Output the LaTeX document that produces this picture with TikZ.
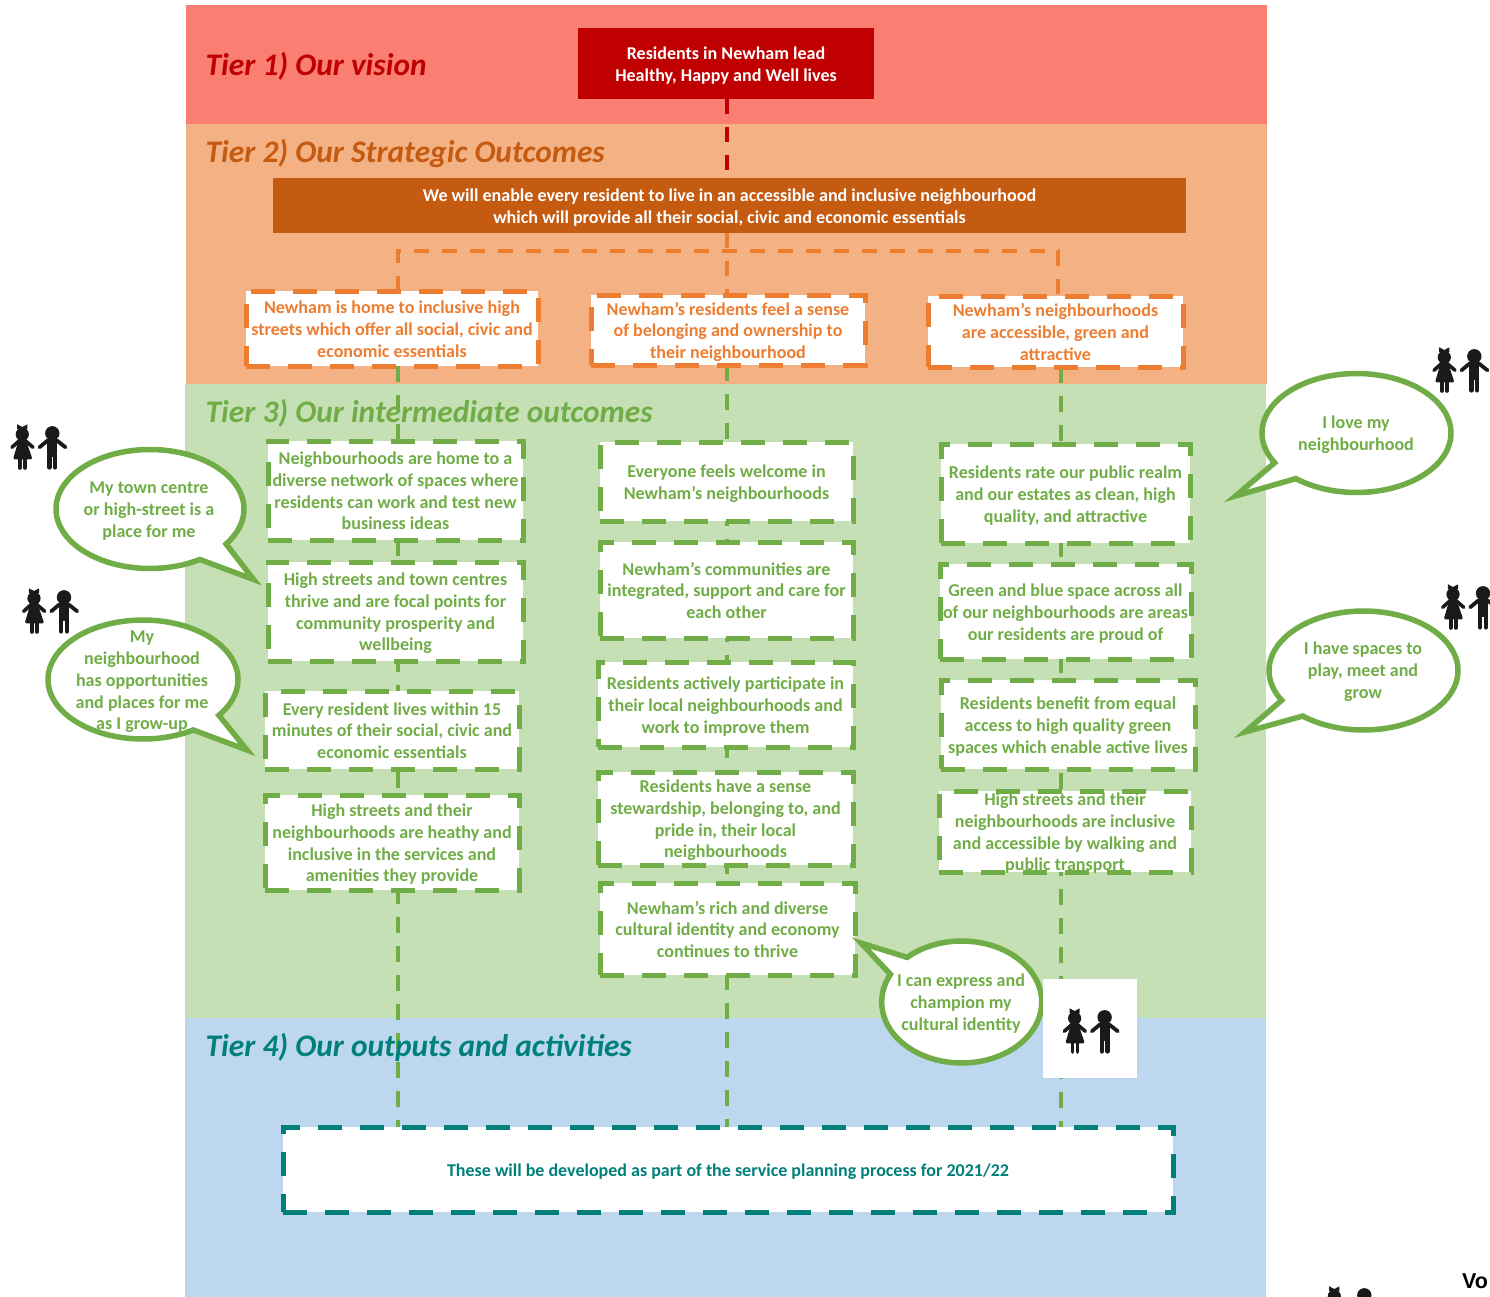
\documentclass[tikz,border=0pt]{standalone}
\usepackage{fontspec}
\setmainfont{Carlito}
\newfontfamily\vofont{Liberation Sans}
\definecolor{bandred}{HTML}{FB7E72}
\definecolor{bandorange}{HTML}{F4B183}
\definecolor{bandgreen}{HTML}{C5E0B4}
\definecolor{bandblue}{HTML}{BDD7EE}
\definecolor{cred}{HTML}{C00000}
\definecolor{cbrown}{HTML}{C55A11}
\definecolor{corange}{HTML}{ED7D31}
\definecolor{cgreen}{HTML}{70AD47}
\definecolor{cteal}{HTML}{00807A}
\definecolor{ckid}{HTML}{1A1A1A}
\pgfdeclarelayer{bands}
\pgfdeclarelayer{links}
\pgfsetlayers{bands,links,main}
\newcommand\lines[1]{\vbox to 0pt{\vss\kern5pt\hbox{\begin{tabular}{@{}c@{}}#1\end{tabular}}\vss}}
\newcommand\bubblepath[8]{\draw[bub] plot[domain=#5:#6,samples=120] ({#1+#3*cos(\x)},{#2+#4*sin(\x)}) -- (#7,#8) -- cycle;}
\tikzset{
  x=1pt,y=-1pt,
  dbox/.style={draw,fill=white,line width=5pt,inner sep=0pt,outer sep=0pt,dash pattern=on 24pt off 18pt,align=center},
  obox/.style={draw=corange,text=corange},
  gbox/.style={draw=cgreen,text=cgreen},
  tbx/.style={draw=cteal,text=cteal},
  bub/.style={draw=cgreen,fill=white,line width=5.5pt,line join=miter},
  bubtext/.style={text=cgreen,inner sep=0pt},
  title/.style={anchor=base west,inner sep=0pt,font=\fontsize{31.4}{36}\selectfont\bfseries\itshape},
  solidbox/.style={text=white,inner sep=0pt,outer sep=0pt,align=center},
  olink/.style={draw=corange,line width=3.5pt,dash pattern=on 15pt off 13pt},
  glink/.style={draw=cgreen,line width=4pt,dash pattern=on 16pt off 13pt},
  rlink/.style={draw=cred,line width=3.5pt,dash pattern=on 15pt off 13pt},
  kids/.pic={
    \fill[ckid] (12.3,10.3) circle[radius=6.6];
    \fill[ckid] (7.2,0.3) -- (12.3,3) -- (17.4,0.3) -- (17.4,5) -- (7.2,5) -- cycle;
    \fill[ckid,rounded corners=1.5pt] (9,15) -- (15.6,15) -- (22.5,35.3) -- (3,35.3) -- cycle;
    \draw[ckid,line width=3.6pt,line cap=round] (2,23.3) -- (9,17) -- (15.6,17) -- (23,23.3);
    \draw[ckid,line width=3.6pt,line cap=round] (10,33) -- (10,44) (15,33) -- (15,44);
    \fill[ckid] (42.3,9.3) circle[radius=7.2];
    \draw[ckid,line width=3.8pt,line cap=round] (29.5,23.3) -- (37,17) -- (47.5,17) -- (55.5,23.3);
    \fill[ckid] (37.3,15.5) rectangle (47.3,33);
    \draw[ckid,line width=4.2pt,line cap=round] (39.4,30) -- (39.4,43.5) (45.2,30) -- (45.2,43.5);
  }
}
\begin{document}
\begin{tikzpicture}[font=\fontsize{18.05}{21.7}\selectfont\bfseries]
\useasboundingbox (0,0) rectangle (1490,1297);
\clip (0,0) rectangle (1490,1297);

\begin{pgfonlayer}{bands}
\fill[bandred] (186,5) rectangle (1267,124);
\fill[bandorange] (186,124) rectangle (1267,384);
\fill[bandgreen] (185,384) rectangle (1266,1018);
\fill[bandblue] (185,1018) rectangle (1266,1297);
\end{pgfonlayer}

% titles
\node[title,text=cred] (t1) at (205.5,76) {Tier 1) Our vision};
\node[title,text=cbrown] (t2) at (205.5,162.5) {Tier 2) Our Strategic Outcomes};
\node[title,text=cgreen] (t3) at (205.5,422) {Tier 3) Our intermediate outcomes};
\node[title,text=cteal] (t4) at (205.5,1056) {Tier 4) Our outputs and activities};

% solid boxes
\node[solidbox,fill=cred,minimum width=296pt,minimum height=71pt] (vision) at (726,63.5) {\lines{Residents in Newham lead\\Healthy, Happy and Well lives}};
\node[solidbox,fill=cbrown,minimum width=913pt,minimum height=55pt] (bar) at (729.5,205.5) {\lines{We will enable every resident to live in an accessible and inclusive neighbourhood\\which will provide all their social, civic and economic essentials}};

% dashed boxes
\newcommand\dbx[7][]{\node[dbox,#1,minimum width={(#5-#3-2)*1pt},minimum height={(#6-#4-2)*1pt}] (#2) at ({(#3+#5)/2},{(#4+#6)/2}) {\lines{#7}};}
\dbx[obox]{oa}{245}{290}{539}{367}{Newham is home to inclusive high\\streets which offer all social, civic and\\economic essentials}
\dbx[obox]{ob}{590}{294}{866}{366}{Newham’s residents feel a sense\\of belonging and ownership to\\their neighbourhood}
\dbx[obox]{oc}{927}{295}{1184}{368}{Newham’s neighbourhoods\\are accessible, green and\\attractive}

\dbx[gbox]{a1}{267}{440}{524}{541}{Neighbourhoods are home to a\\diverse network of spaces where\\residents can work and test new\\business ideas}
\dbx[gbox]{a2}{267}{561}{524}{662}{High streets and town centres\\thrive and are focal points for\\community prosperity and\\wellbeing}
\dbx[gbox]{a3}{264}{690}{520}{770}{Every resident lives within 15\\minutes of their social, civic and\\economic essentials}
\dbx[gbox]{a4}{264}{794}{520}{891}{High streets and their\\neighbourhoods are heathy and\\inclusive in the services and\\amenities they provide}

\dbx[gbox]{b1}{599}{441}{854}{522}{Everyone feels welcome in\\Newham’s neighbourhoods}
\dbx[gbox]{b2}{599}{541}{854}{639}{Newham’s communities are\\integrated, support and care for\\each other}
\dbx[gbox]{b3}{597}{661}{854}{748}{Residents actively participate in\\their local neighbourhoods and\\work to improve them}
\dbx[gbox]{b4}{597}{771}{854}{866}{Residents have a sense\\stewardship, belonging to, and\\pride in, their local\\neighbourhoods}
\dbx[gbox]{b5}{599}{882}{856}{976}{Newham’s rich and diverse\\cultural identity and economy\\continues to thrive}

\dbx[gbox]{c1}{940}{443}{1191}{544}{Residents rate our public realm\\and our estates as clean, high\\quality, and attractive}
\dbx[gbox]{c2}{939}{563}{1192}{660}{Green and blue space across all\\of our neighbourhoods are areas\\our residents are proud of}
\dbx[gbox]{c3}{940}{679}{1196}{770}{Residents benefit from equal\\access to high quality green\\spaces which enable active lives}
\dbx[gbox]{c4}{938}{790}{1192}{873}{High streets and their\\neighbourhoods are inclusive\\and accessible by walking and\\public transport}

\dbx[tbx]{out}{282}{1126}{1174}{1213}{\fontsize{18}{21.7}\selectfont These will be developed as part of the service planning process for 2021/22}

% connectors
\coordinate (xl) at (398,251);
\coordinate (xr) at (1058,251);
\coordinate (xm) at (727,251);
\coordinate (g1) at (398,0);
\coordinate (g2) at (727,0);
\coordinate (g3) at (1061,0);
\begin{pgfonlayer}{links}
\draw[rlink] (xm |- vision.south) -- (xm |- bar.north);
\draw[olink] (xm |- bar.south) -- (xm |- ob.north);
\draw[olink] (xl |- oa.north) -- (xl) -- (xr) -- (xr |- oc.north);
\draw[glink] (g1 |- oa.south) -- (g1 |- out.north);
\draw[glink] (g2 |- ob.south) -- (g2 |- out.north);
\draw[glink] (g3 |- oc.south) -- (g3 |- out.north);
\end{pgfonlayer}

% speech bubbles
\bubblepath{150}{509}{94}{59.5}{58}{396}{253.6}{579.5}
\node[bubtext] (s1) at (149,508.5) {\lines{My town centre\\or high-street is a\\place for me}};
\bubblepath{143}{679.5}{95}{59.5}{58}{397}{247}{750}
\node[bubtext] (s2) at (142,679.5) {\lines{My\\neighbourhood\\has opportunities\\and places for me\\as I grow-up}};
\bubblepath{1356.5}{433}{94.5}{59.5}{150}{490}{1235.5}{496}
\node[bubtext] (s3) at (1356,432.5) {\lines{I love my\\neighbourhood}};
\bubblepath{1363.5}{670.5}{94.5}{59.5}{150}{490}{1245}{732}
\node[bubtext] (s4) at (1363,669.5) {\lines{I have spaces to\\play, meet and\\grow}};
\bubblepath{961.7}{1002}{80}{61}{227}{567}{861}{943}
\node[bubtext] (s5) at (961,1001.5) {\lines{I can express and\\champion my\\cultural identity}};

% white panel behind icon
\fill[white] (1043,979) rectangle (1137,1078);

% children
\pic (k1) at (10,424) {kids};
\pic (k2) at (21.7,588) {kids};
\pic (k3) at (1432,347) {kids};
\pic (k4) at (1440.7,584) {kids};
\pic (k5) at (1062.3,1008) {kids};
\pic (k6) at (1322,1286) {kids};

\node[anchor=base west,inner sep=0pt,font=\fontsize{21.5}{25}\selectfont\vofont\bfseries] (vo) at (1462,1288) {Vo};
\end{tikzpicture}
\end{document}
